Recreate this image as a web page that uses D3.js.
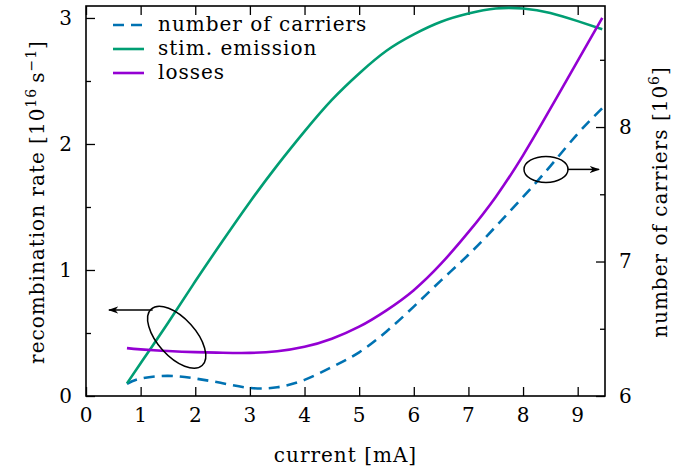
<!DOCTYPE html>
<html>
<head>
<meta charset="utf-8">
<script src="https://cdn.jsdelivr.net/npm/d3@7"></script>
<style>
  body { margin: 0; background: #fff; }
</style>
</head>
<body>
<div id="chart"></div>
<script>
// current [mA]
const current = [0.75, 1.0, 1.5, 2.0, 2.5, 3.0, 3.5, 4.0, 4.5, 5.0, 5.5, 6.0, 6.5, 7.0, 7.5, 8.0, 8.5, 9.0, 9.45];
// recombination rates [1e16 / s] (left axis)
const stimEmission = [0.10, 0.26, 0.58, 0.91, 1.23, 1.54, 1.83, 2.10, 2.35, 2.56, 2.74, 2.87, 2.97, 3.035, 3.075, 3.075, 3.04, 2.975, 2.91];
const losses = [0.38, 0.37, 0.357, 0.348, 0.343, 0.342, 0.355, 0.39, 0.455, 0.55, 0.68, 0.84, 1.05, 1.30, 1.58, 1.91, 2.28, 2.66, 3.00];
// number of carriers [1e6] (right axis)
const carriers = [6.09, 6.13, 6.15, 6.13, 6.095, 6.06, 6.065, 6.12, 6.215, 6.325, 6.48, 6.665, 6.86, 7.05, 7.26, 7.48, 7.71, 7.95, 8.14];

const xTicks = [0, 1, 2, 3, 4, 5, 6, 7, 8, 9];
const leftTicks = [0, 1, 2, 3];
const leftMinor = [0.5, 1.5, 2.5];
const rightTicks = [6, 7, 8];
const rightMinor = [6.5, 7.5, 8.5];

const legendNames = ["number of carriers", "stim. emission", "losses"];

const width = 688;
const height = 472;
const marginTop = 6;
const marginRight = 83;
const marginBottom = 76;
const marginLeft = 86;

const font = '"DejaVu Serif", serif';
const fs = 20;
const major = 9, minor = 5;

const x = d3.scaleLinear().domain([0, 9.5]).range([marginLeft, width - marginRight]);
const yL = d3.scaleLinear().domain([0, 3.095]).range([height - marginBottom, marginTop]);
const yR = d3.scaleLinear().domain([6, 8.9]).range([height - marginBottom, marginTop]);

const svg = d3.select("#chart").append("svg")
    .attr("width", width)
    .attr("height", height)
    .attr("viewBox", [0, 0, width, height])
    .style("font-family", font)
    .style("letter-spacing", "1px");

// axes, ticks pointing inward
svg.append("g")
    .attr("transform", `translate(0,${height - marginBottom})`)
    .call(d3.axisBottom(x).tickValues(xTicks).tickSize(-major).tickPadding(12).tickFormat(d3.format("d")));

svg.append("g")
    .attr("transform", `translate(0,${marginTop})`)
    .call(d3.axisTop(x).tickValues(xTicks).tickSize(-major).tickFormat(""));

svg.append("g")
    .attr("transform", `translate(${marginLeft},0)`)
    .call(d3.axisLeft(yL).tickValues(leftTicks).tickSize(-major).tickPadding(13).tickFormat(d3.format("d")));

svg.append("g")
    .attr("transform", `translate(${marginLeft},0)`)
    .call(d3.axisLeft(yL).tickValues(leftMinor).tickSize(-minor).tickFormat(""));

svg.append("g")
    .attr("transform", `translate(${width - marginRight},0)`)
    .call(d3.axisRight(yR).tickValues(rightTicks).tickSize(-major).tickPadding(14).tickFormat(d3.format("d")));

svg.append("g")
    .attr("transform", `translate(${width - marginRight},0)`)
    .call(d3.axisRight(yR).tickValues(rightMinor).tickSize(-minor).tickFormat(""));

svg.selectAll(".domain").remove();
svg.selectAll(".tick line").attr("stroke", "#000").attr("stroke-width", 1.3);
svg.selectAll(".tick text")
    .style("font-family", font)
    .attr("font-size", fs)
    .attr("fill", "#000");

// frame
svg.append("rect")
    .attr("x", marginLeft)
    .attr("y", marginTop)
    .attr("width", width - marginLeft - marginRight)
    .attr("height", height - marginTop - marginBottom)
    .attr("fill", "none")
    .attr("stroke", "#000")
    .attr("stroke-width", 1.6);

// curves
svg.append("clipPath").attr("id", "clip")
  .append("rect")
    .attr("x", marginLeft).attr("y", marginTop)
    .attr("width", width - marginLeft - marginRight)
    .attr("height", height - marginTop - marginBottom);

const series = [
  {name: legendNames[0], values: carriers, y: yR, color: "#0072b2", dash: "11,7"},
  {name: legendNames[1], values: stimEmission, y: yL, color: "#009e73", dash: null},
  {name: legendNames[2], values: losses, y: yL, color: "#9400d3", dash: null}
];

svg.append("g").attr("clip-path", "url(#clip)")
  .selectAll("path")
  .data(series)
  .join("path")
    .attr("fill", "none")
    .attr("stroke", d => d.color)
    .attr("stroke-width", 2.6)
    .attr("stroke-dasharray", d => d.dash)
    .attr("d", s => d3.line()
        .x((v, i) => x(current[i]))
        .y(v => s.y(v))
        .curve(d3.curveNatural)(s.values));

// annotations: ellipses with arrows pointing to their axis
svg.append("defs").append("marker")
    .attr("id", "arrow")
    .attr("viewBox", "0 0 10 10")
    .attr("refX", 9).attr("refY", 5)
    .attr("markerWidth", 7).attr("markerHeight", 7)
    .attr("orient", "auto-start-reverse")
  .append("path")
    .attr("d", "M0,1.5L10,5L0,8.5L3,5Z")
    .attr("fill", "#000");

const ann = svg.append("g").attr("fill", "none").attr("stroke", "#000").attr("stroke-width", 1.5);

const leftEll = {cx: 1.66, cy: 0.466, rx: 38, ry: 19, angle: 48, arrowY: 0.683, arrowFrom: 1.22, arrowTo: 0.42};
ann.append("ellipse")
    .attr("transform", `translate(${x(leftEll.cx)},${yL(leftEll.cy)}) rotate(${leftEll.angle})`)
    .attr("rx", leftEll.rx).attr("ry", leftEll.ry);
ann.append("line")
    .attr("x1", x(leftEll.arrowFrom)).attr("x2", x(leftEll.arrowTo))
    .attr("y1", yL(leftEll.arrowY)).attr("y2", yL(leftEll.arrowY))
    .attr("marker-end", "url(#arrow)");

const rightEll = {cx: 8.42, cy: 7.685, rx: 22, ry: 13, arrowFrom: 8.82, arrowTo: 9.39};
ann.append("ellipse")
    .attr("cx", x(rightEll.cx)).attr("cy", yR(rightEll.cy))
    .attr("rx", rightEll.rx).attr("ry", rightEll.ry);
ann.append("line")
    .attr("x1", x(rightEll.arrowFrom)).attr("x2", x(rightEll.arrowTo))
    .attr("y1", yR(rightEll.cy)).attr("y2", yR(rightEll.cy))
    .attr("marker-end", "url(#arrow)");

// legend
const row = svg.append("g").attr("transform", "translate(113,25)")
  .selectAll("g")
  .data(series)
  .join("g")
    .attr("transform", (d, i) => `translate(0,${i * 24})`);
row.append("line")
    .attr("x1", 0).attr("x2", 31)
    .attr("stroke", d => d.color)
    .attr("stroke-width", 2.6)
    .attr("stroke-dasharray", d => d.dash);
row.append("text")
    .attr("x", 45).attr("y", 6)
    .attr("font-size", fs)
    .text(d => d.name);

// axis titles
svg.append("text")
    .attr("x", (marginLeft + width - marginRight) / 2)
    .attr("y", 462)
    .attr("text-anchor", "middle")
    .attr("font-size", fs)
    .text("current [mA]");

const yLab = svg.append("text")
    .attr("transform", "translate(44,202) rotate(-90)")
    .attr("text-anchor", "middle")
    .attr("font-size", fs);
yLab.append("tspan").text("recombination rate [10");
yLab.append("tspan").attr("dy", -8).attr("font-size", 14).text("16");
yLab.append("tspan").attr("dy", 8).text("\u2009s");
yLab.append("tspan").attr("dy", -8).attr("font-size", 14).text("\u22121");
yLab.append("tspan").attr("dy", 8).text("]");

const rLab = svg.append("text")
    .attr("transform", "translate(667,202) rotate(-90)")
    .attr("text-anchor", "middle")
    .attr("font-size", fs);
rLab.append("tspan").text("number of carriers [10");
rLab.append("tspan").attr("dy", -8).attr("font-size", 14).text("6");
rLab.append("tspan").attr("dy", 8).text("]");
</script>
</body>
</html>
